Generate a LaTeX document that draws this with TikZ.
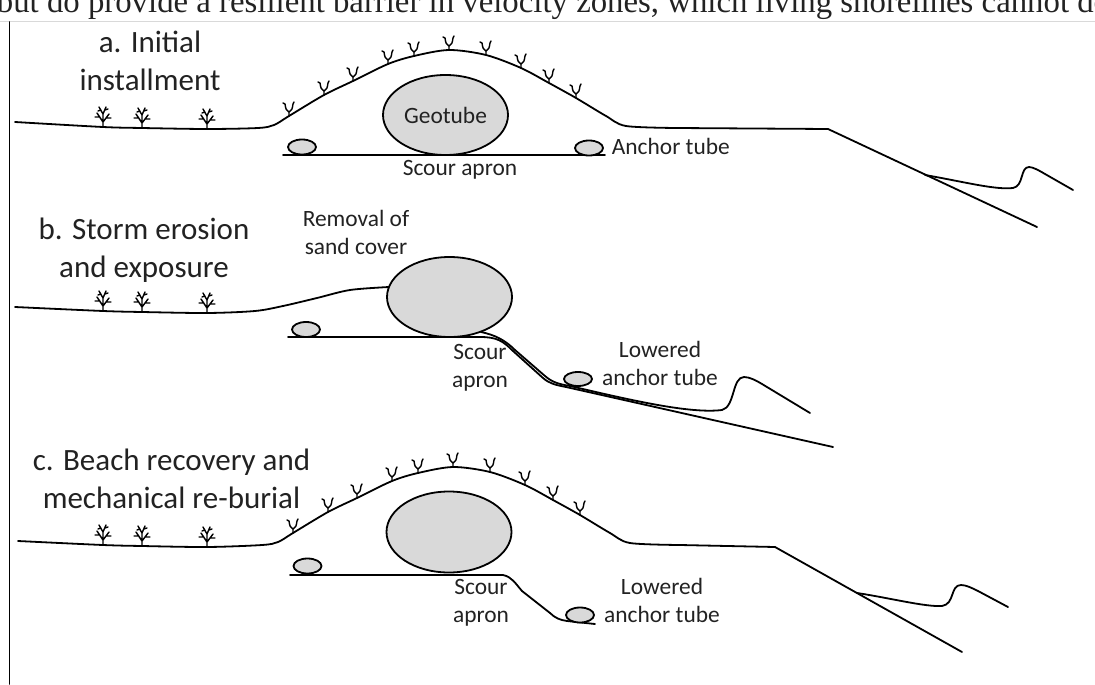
\documentclass[tikz,border=0pt]{standalone}
\usepackage{fontspec}
\setmainfont{Carlito}
\newfontfamily\serifpage{Liberation Serif}
\usetikzlibrary{shapes.geometric}
\definecolor{tubegray}{HTML}{D9D9D9}
\definecolor{inkgray}{HTML}{222222}
\tikzset{
  head/.style={align=center,inner sep=0pt,font=\fontsize{15.5}{19}\selectfont},
  lbl/.style={align=center,inner sep=0pt,font=\fontsize{11.7}{14}\selectfont},
  tube/.style={ellipse,draw,fill=tubegray,inner sep=0pt},
  geotube/.style={tube,minimum width=62.5pt,minimum height=40pt},
  anchortube/.style={tube,minimum width=14pt,minimum height=7.5pt},
  shrub/.pic={
    \draw[line width=0.7pt] (0,0) -- (0,-13)
      (0,-5) -- (-6,-14) (0,-5) -- (6,-13)
      (-3,-10) -- (-8,-10) (3,-9) -- (8,-9)
      (0,-13) -- (-4,-20) (0,-13) -- (3,-20)
      (-2,-17) -- (-5,-16) (2,-17) -- (5,-18);
  },
  sprig/.pic={
    \draw[line width=0.7pt] (0,0) -- (0,-4)
      (0,-4) .. controls (-3,-6) .. (-4,-12) -- (-6,-13)
      (0,-4) .. controls (3,-6) .. (4,-12) -- (5,-14);
  }
}
\begin{document}
\begin{tikzpicture}[x=0.5pt,y=-0.5pt,line width=0.9pt,line join=round,line cap=round,
  every node/.style={text=inkgray}]
\useasboundingbox (0,0) rectangle (1095,684);
\clip (0,0) rectangle (1095,684);

\node[anchor=base west,inner sep=0pt,font=\serifpage\fontsize{16.4}{19}\selectfont] (pageline) at (-4,13)
  {but do provide a resilient barrier in velocity zones, which living shorelines cannot do.};
\draw[gray!30,line width=0.6pt] (0,21.5) -- (1095,21.5);
\draw[line width=0.8pt] (9.5,22) -- (9.5,684);

% a. initial installment
\draw plot[smooth] coordinates {(15,122) (103,127) (142,128) (207,129) (258,128) (274,125)
  (289,116) (324,95) (353,81) (388,64) (414,56) (449,50) (486,55) (521,68) (549,83) (576,98)
  (606,116) (626,126) (676,128)} -- (828,129) -- (1037,227);
\draw (925,175) .. controls (965,182) and (995,190) .. (1013,188)
  .. controls (1024,186) and (1020,167) .. (1029,167)
  .. controls (1033,167) and (1040,171) .. (1045,174) -- (1073,190);
\draw (283,155) -- (605,155);
\path (103,127) pic{shrub} (142,128) pic{shrub} (207,129) pic{shrub}
  (289,116) pic{sprig} (324,95) pic{sprig} (353,81) pic{sprig} (388,64) pic{sprig}
  (414,56) pic{sprig} (449,50) pic{sprig} (486,55) pic{sprig} (521,68) pic{sprig}
  (549,83) pic{sprig} (576,98) pic{sprig};
\node[geotube,lbl] (tubeA) at (445.5,115) {Geotube};
\node[anchortube] (backA) at (302,147) {};
\node[anchortube] (frontA) at (589,148) {};
\node[lbl] (apronA) at (460,170) {Scour apron};
\node[lbl,anchor=west] (anchorA) at (611,146) {Anchor tube};
\node[head] (headA) at (150,61) {a. Initial\\installment};

% b. storm erosion
\draw plot[smooth] coordinates {(15,307) (103,311) (142,312) (207,313) (255,311) (283,306)
  (317,298) (350,290) (389,287)};
\draw (288,337) -- (480,337) .. controls (497,337) and (503,341) .. (513,351) -- (543,378)
  .. controls (550,384) and (556,385) .. (566,387) -- (833,447);
\draw (481,332) .. controls (495,335) and (505,340) .. (515,350) -- (545,376)
  .. controls (552,382) and (558,384) .. (570,386)
  .. controls (630,400) and (690,414) .. (722,410)
  .. controls (735,407) and (732,377) .. (744,377)
  .. controls (750,377) and (757,381) .. (762,384) -- (810,413);
\path (103,311) pic{shrub} (142,312) pic{shrub} (207,313) pic{shrub};
\node[geotube] (tubeB) at (449.5,297) {};
\node[anchortube] (backB) at (306,329.5) {};
\node[anchortube,minimum height=7pt] (frontB) at (578,379) {};
\node[lbl] (sandB) at (356,232) {Removal of\\sand cover};
\node[lbl] (apronB) at (480,368) {Scour\\apron};
\node[lbl] (anchorB) at (660,363) {Lowered\\anchor tube};
\node[head] (headB) at (144,250) {b. Storm erosion\\and exposure};

% c. recovery and re-burial
\draw plot[smooth] coordinates {(18,541) (103,545) (142,546) (207,547) (262,545) (278,542)
  (293,533) (328,512) (357,498) (392,481) (418,473) (453,467) (490,472) (525,485) (553,500)
  (580,515) (610,533) (630,543) (680,545)} -- (775,547) -- (962,652);
\draw (857,593) .. controls (890,598) and (925,607) .. (942,606)
  .. controls (955,604) and (950,585) .. (961,585)
  .. controls (966,585) and (972,588) .. (978,591) -- (1008,607);
\draw (290,575) -- (503,575) .. controls (512,577) and (515,583) .. (522,591)
  -- (550,613) .. controls (555,618) and (560,620) .. (567,621) -- (595,624);
\path (103,545) pic{shrub} (142,546) pic{shrub} (207,547) pic{shrub}
  (293,533) pic{sprig} (328,512) pic{sprig} (357,498) pic{sprig} (392,481) pic{sprig}
  (418,473) pic{sprig} (453,467) pic{sprig} (490,472) pic{sprig} (525,485) pic{sprig}
  (553,500) pic{sprig} (580,515) pic{sprig};
\node[geotube,minimum height=40.5pt] (tubeC) at (449,532) {};
\node[anchortube] (backC) at (307.5,566) {};
\node[anchortube] (frontC) at (580,615) {};
\node[lbl] (apronC) at (481,603) {Scour\\apron};
\node[lbl] (anchorC) at (662,600) {Lowered\\anchor tube};
\node[head] (headC) at (171.5,478.5) {c. Beach recovery and\\mechanical re-burial};
\end{tikzpicture}
\end{document}
